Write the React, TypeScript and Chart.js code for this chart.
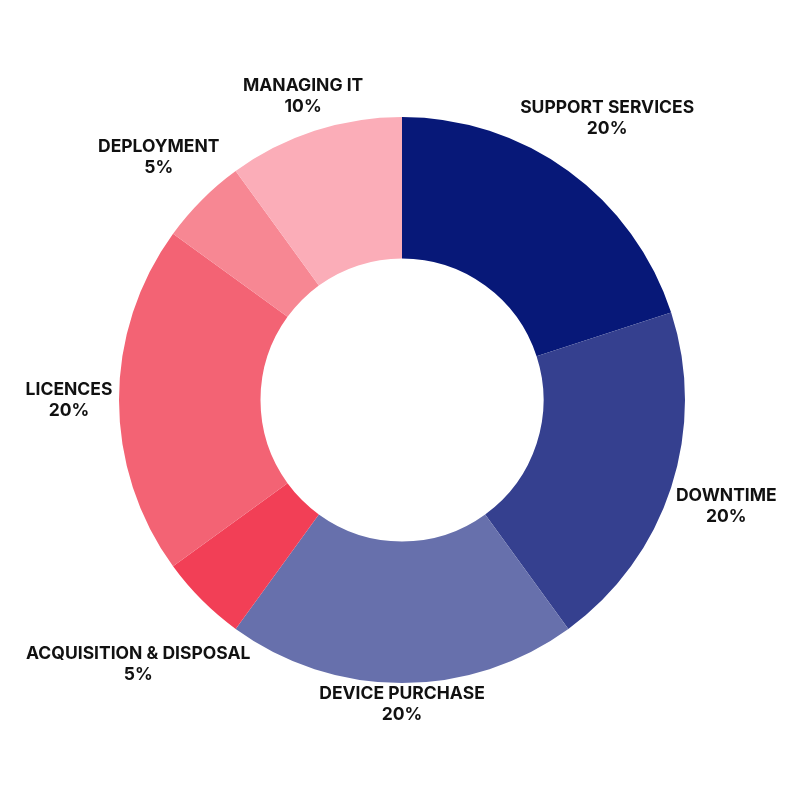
import { useEffect, useRef } from "react"
import { Chart, type ChartConfiguration, type Plugin, registerables } from "chart.js"

Chart.register(...registerables)

const categories = [
  "Support Services",
  "Downtime",
  "Device Purchase",
  "Acquisition & Disposal",
  "Licences",
  "Deployment",
  "Managing IT",
]
const shares = [20, 20, 20, 5, 20, 5, 10]
const sliceColors = ["#071878", "#35408f", "#6770ac", "#f23f56", "#f36374", "#f78793", "#fbadb8"]

// how far past the outer edge each label's centre sits
const labelGaps = [66, 58, 21, 90, 50, 61, 37]

const outsideLabels: Plugin<"doughnut"> = {
  id: "outsideLabels",
  afterDatasetsDraw(chart) {
    const ctx = chart.ctx
    const meta = chart.getDatasetMeta(0)
    ctx.save()
    ctx.fillStyle = "#111111"
    ctx.font = "700 17.5px Inter"
    ctx.textAlign = "center"
    ctx.textBaseline = "middle"
    meta.data.forEach((el, i) => {
      const { x, y, startAngle, endAngle, outerRadius } = el.getProps(
        ["x", "y", "startAngle", "endAngle", "outerRadius"],
        true
      ) as any
      const mid = (startAngle + endAngle) / 2
      const r = outerRadius + labelGaps[i]
      const cx = x + Math.cos(mid) * r
      const cy = y + Math.sin(mid) * r
      ctx.fillText(categories[i].toUpperCase(), cx, cy - 10)
      ctx.fillText(shares[i] + "%", cx, cy + 11)
    })
    ctx.restore()
  },
}

export default function App() {
  const chartRef = useRef<HTMLCanvasElement>(null)
  const chartInstance = useRef<Chart | null>(null)

  useEffect(() => {
    if (!chartRef.current) return
    if (chartInstance.current) chartInstance.current.destroy()

    const config: ChartConfiguration<"doughnut"> = {
      type: "doughnut",
      data: {
        labels: categories,
        datasets: [
          {
            data: shares,
            backgroundColor: sliceColors,
            borderWidth: 0,
          },
        ],
      },
      options: {
        responsive: true,
        maintainAspectRatio: false,
        animation: false,
        cutout: "50%",
        layout: {
          padding: { left: 111, right: 107, top: 109, bottom: 109 },
        },
        plugins: {
          legend: { display: false },
          tooltip: { enabled: false },
        },
      },
      plugins: [outsideLabels],
    }

    chartInstance.current = new Chart(chartRef.current, config)

    return () => {
      if (chartInstance.current) {
        chartInstance.current.destroy()
        chartInstance.current = null
      }
    }
  }, [])

  return (
    <div style={{ width: 784, height: 784, position: "relative" }}>
      <canvas ref={chartRef} />
    </div>
  )
}
